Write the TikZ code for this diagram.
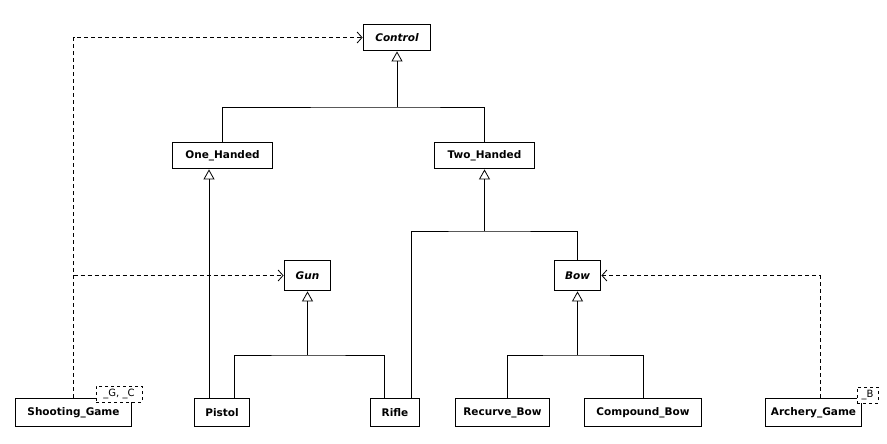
\documentclass[tikz,border=0pt]{standalone}
\usepackage{fontspec}
\setmainfont{DejaVu Sans}
\usetikzlibrary{arrows.meta}

\begin{document}
\begin{tikzpicture}[
    x=1pt, y=-1pt, line width=0.8pt,
    cls/.style={rectangle, draw, line width=1.8pt, fill=white, minimum height=26pt, inner sep=2pt, font=\fontsize{10.5}{12}\selectfont\bfseries},
    abscls/.style={cls, minimum height=30pt, font=\fontsize{10.5}{12}\selectfont\bfseries\itshape},
    tmpl/.style={rectangle, draw, line width=0.8pt, dashed, fill=white, inner sep=1.5pt, minimum height=16pt, font=\fontsize{10}{11}\selectfont},
    gen/.style={-{Triangle[open, length=10pt, width=11pt]}},
    dep/.style={dash pattern=on 4pt off 3pt, -{Straight Barb[length=5pt, width=11pt]}}
]
\useasboundingbox (0,0) rectangle (887,444);

% Classes
\node[abscls, minimum width=67pt, minimum height=26pt] (Control) at (397,37.5) {Control};
\node[cls, minimum width=100pt] (One_Handed) at (222.5,155.5) {One\_Handed};
\node[cls, minimum width=100pt] (Two_Handed) at (484.5,155.5) {Two\_Handed};
\node[abscls, minimum width=46pt] (Gun) at (307.5,275.5) {Gun};
\node[abscls, minimum width=46pt] (Bow) at (577.5,275.5) {Bow};

\node[cls, minimum width=116pt, minimum height=28pt] (Shooting_Game) at (73.5,412.5) {Shooting\_Game};
\node[cls, minimum width=55pt, minimum height=28pt] (Pistol) at (222,412.5) {Pistol};
\node[cls, minimum width=49pt, minimum height=28pt] (Rifle) at (395,412.5) {Rifle};
\node[cls, minimum width=94pt, minimum height=28pt] (Recurve_Bow) at (502.5,412.5) {Recurve\_Bow};
\node[cls, minimum width=117pt, minimum height=28pt] (Compound_Bow) at (643,412.5) {Compound\_Bow};
\node[cls, minimum width=96pt, minimum height=28pt] (Archery_Game) at (813.5,412.5) {Archery\_Game};

% Template parameters
\node[tmpl, minimum width=46pt] (sg_tmpl) at (119,394) {\_G, \_C};
\node[tmpl, minimum width=21pt] (ag_tmpl) at (867.5,395) {\_B};

% Generalizations
\coordinate (ctrl_join) at (397,107);
\draw (One_Handed.north) |- (ctrl_join) -| (Two_Handed.north);
\draw[gen] (ctrl_join) -- (Control.south);

\draw[gen] ([xshift=-13pt]Pistol.north) -- ([xshift=-13pt]Pistol.north |- One_Handed.south);

\coordinate (two_join) at (484.5,231);
\draw ([xshift=16pt]Rifle.north) |- (two_join) -| (Bow.north);
\draw[gen] (two_join) -- (Two_Handed.south);

\coordinate (gun_join) at (307.5,355);
\draw ([xshift=12pt]Pistol.north) |- (gun_join) -| ([xshift=-11pt]Rifle.north);
\draw[gen] (gun_join) -- (Gun.south);

\coordinate (bow_join) at (577.5,355);
\draw ([xshift=4.5pt]Recurve_Bow.north) |- (bow_join) -| (Compound_Bow.north);
\draw[gen] (bow_join) -- (Bow.south);

% Dependencies
\draw[dep] (Shooting_Game.north) |- (Control.west);
\draw[dep] (Shooting_Game.north |- Gun.west) -- (Gun.west);
\draw[dep] ([xshift=6.5pt]Archery_Game.north) |- (Bow.east);
\end{tikzpicture}
\end{document}
